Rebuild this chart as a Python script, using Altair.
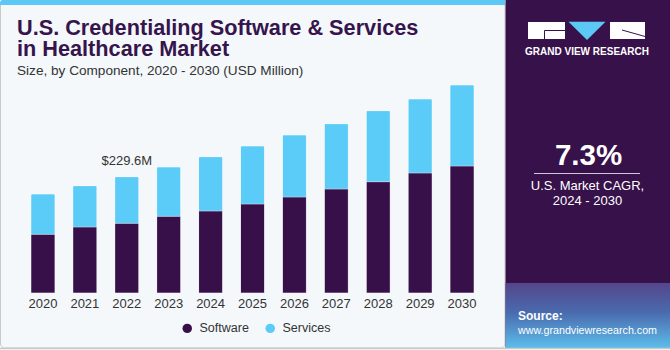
import altair as alt
import pandas as pd

# ---------------- data ----------------
years = [str(y) for y in range(2020, 2031)]
software = [115.9, 130.3, 137.6, 151.4, 161.9, 175.7, 189.5, 205.3, 219.7, 236.9, 250.7]
services = [79.5, 81.5, 92.0, 97.3, 107.2, 114.5, 122.4, 128.9, 140.2, 146.1, 159.9]
components = ["Software", "Services"]
colors = ["#37104A", "#5BCBF7"]
annot_year = "2022"
annot_label = "$229.6M"
title_lines = ["U.S. Credentialing Software & Services", "in Healthcare Market"]
subtitle = "Size, by Component, 2020 - 2030 (USD Million)"
cagr = "7.3%"
cagr_lines = ["U.S. Market CAGR,", "2024 - 2030"]
brand = "GRAND VIEW RESEARCH"
source_lines = ["Source:", "www.grandviewresearch.com"]

rows = []
for i, y in enumerate(years):
    rows.append({"year": y, "component": components[0], "value": software[i], "order": 0})
    rows.append({"year": y, "component": components[1], "value": services[i], "order": 1})
df = pd.DataFrame(rows)

ai = years.index(annot_year)
annot_df = pd.DataFrame({"year": [annot_year], "total": [software[ai] + services[ai]], "label": [annot_label]})
years_df = pd.DataFrame({"year": years})

FONT = "Liberation Sans"
PURPLE = "#37114A"
one = alt.Data(values=[{"k": 0}])

xscale = alt.Scale(domain=years, range=[22, 483], paddingInner=0.427, paddingOuter=0.2135)
yscale = alt.Scale(domain=[0, 578.4], range=[293, 0], nice=False, zero=True)


def rect(x, x2, y, y2, **kw):
    return alt.Chart(one).mark_rect(**kw).encode(
        x=alt.value(x), x2=alt.value(x2), y=alt.value(y), y2=alt.value(y2))


def rule(x, x2, y, y2, **kw):
    return alt.Chart(one).mark_rule(**kw).encode(
        x=alt.value(x), x2=alt.value(x2), y=alt.value(y), y2=alt.value(y2))


def txt(s, x, y, size, color, weight="normal", align="left", **kw):
    return alt.Chart(one).mark_text(
        text=s, font=FONT, fontSize=size, fontWeight=weight, color=color,
        align=align, baseline="alphabetic", **kw
    ).encode(x=alt.value(x), y=alt.value(y))


# ---------------- backgrounds ----------------
left_bg = rect(0.5, 505, 0.5, 348, fill="#F4F8FB", stroke="#C8C8C8", strokeWidth=1, cornerRadius=4)
stripe = rect(0, 505, 0, 5, fill="#5BC8F5", cornerRadiusTopLeft=4)
right_bg = rect(505.5, 670, 0, 348, fill=PURPLE)
grad = rect(505.5, 670, 283, 348, color=alt.Gradient(
    gradient="linear", x1=0, x2=0, y1=0, y2=1,
    stops=[alt.GradientStop(offset=0, color="#54468A"),
           alt.GradientStop(offset=0.45, color="#4A6AAE"),
           alt.GradientStop(offset=1, color="#5CBDEB")]))
bottom_line = rule(0, 670, 348.5, 348.5, color="#C8C8C8", strokeWidth=1.5)

# ---------------- bars ----------------
bars = alt.Chart(df).mark_bar(
    stroke="white", strokeOpacity=0.3, strokeWidth=1, cornerRadiusTopLeft=1.5, cornerRadiusTopRight=1.5
).encode(
    x=alt.X("year:N", scale=xscale, axis=None),
    y=alt.Y("value:Q", stack="zero", scale=yscale, axis=None),
    color=alt.Color("component:N", scale=alt.Scale(domain=components, range=colors),
                    legend=alt.Legend(orient="none", legendX=181, legendY=322, direction="horizontal",
                                      title=None, symbolType="circle", symbolSize=90,
                                      labelFontSize=12.5, labelColor="#333333", labelFont=FONT,
                                      columnPadding=15, labelOffset=6, symbolStrokeWidth=0,
                                      symbolOpacity=1)),
    order=alt.Order("order:Q", sort="ascending"),
)

year_labels = alt.Chart(years_df).mark_text(
    font=FONT, fontSize=13, color="#333333", baseline="alphabetic"
).encode(x=alt.X("year:N", scale=xscale, axis=None), y=alt.value(308), text="year:N")

annot = alt.Chart(annot_df).mark_text(
    font=FONT, fontSize=13, color="#333333", baseline="alphabetic", dy=-12
).encode(x=alt.X("year:N", scale=xscale, axis=None),
         y=alt.Y("total:Q", scale=yscale, axis=None), text="label:N")

# ---------------- titles ----------------
title_t = alt.Chart(one).mark_text(
    text=title_lines, font=FONT, fontSize=21.7, fontWeight="bold", color="#36144C",
    align="left", baseline="alphabetic", lineHeight=21
).encode(x=alt.value(17), y=alt.value(35))
st = txt(subtitle, 17, 74.5, 13.6, "#333333")

# ---------------- right panel ----------------
logo_l = rect(528, 565, 22, 39, fill="white")
logo_r = rect(610, 645, 22, 39, fill="white")
logo_l1 = rule(544.5, 565, 30.5, 30.5, color=PURPLE, strokeWidth=1)
logo_l2 = rule(544.5, 544.5, 30.5, 39, color=PURPLE, strokeWidth=1)
logo_r1 = rule(622, 645, 30, 36.5, color=PURPLE, strokeWidth=1)
tri = alt.Chart(one).mark_point(
    shape="M-1,-0.495L1,-0.495L0,0.495Z", size=1369, filled=True, fill="#5BC8F5", opacity=1, strokeWidth=0
).encode(x=alt.value(587), y=alt.value(30.9))
brand_t = txt(brand, 587, 54.5, 10, "white", weight="bold", align="center")

cagr_t = txt(cagr, 588.5, 165, 29.5, "white", weight="bold", align="center")
cagr_line = rule(534, 640, 173.5, 173.5, color="#CFC6D8", strokeWidth=1)
c1 = txt(cagr_lines[0], 587.5, 189.5, 13, "white", align="center")
c2 = txt(cagr_lines[1], 587.5, 204.5, 13, "white", align="center")
s1 = txt(source_lines[0], 518, 320, 12, "white", weight="bold")
s2 = txt(source_lines[1], 518, 333.5, 10.7, "white")

chart = alt.layer(
    left_bg, stripe, right_bg, grad, bottom_line,
    bars, year_labels, annot,
    title_t, st,
    logo_l, logo_r, logo_l1, logo_l2, logo_r1, tri, brand_t,
    cagr_t, cagr_line, c1, c2, s1, s2,
).properties(
    width=670, height=350, padding=0, autosize=alt.AutoSizeParams(type="none"),
    background="white",
).configure_view(strokeWidth=0)

chart.save("out.html", embed_options={"renderer": "svg", "actions": False})
